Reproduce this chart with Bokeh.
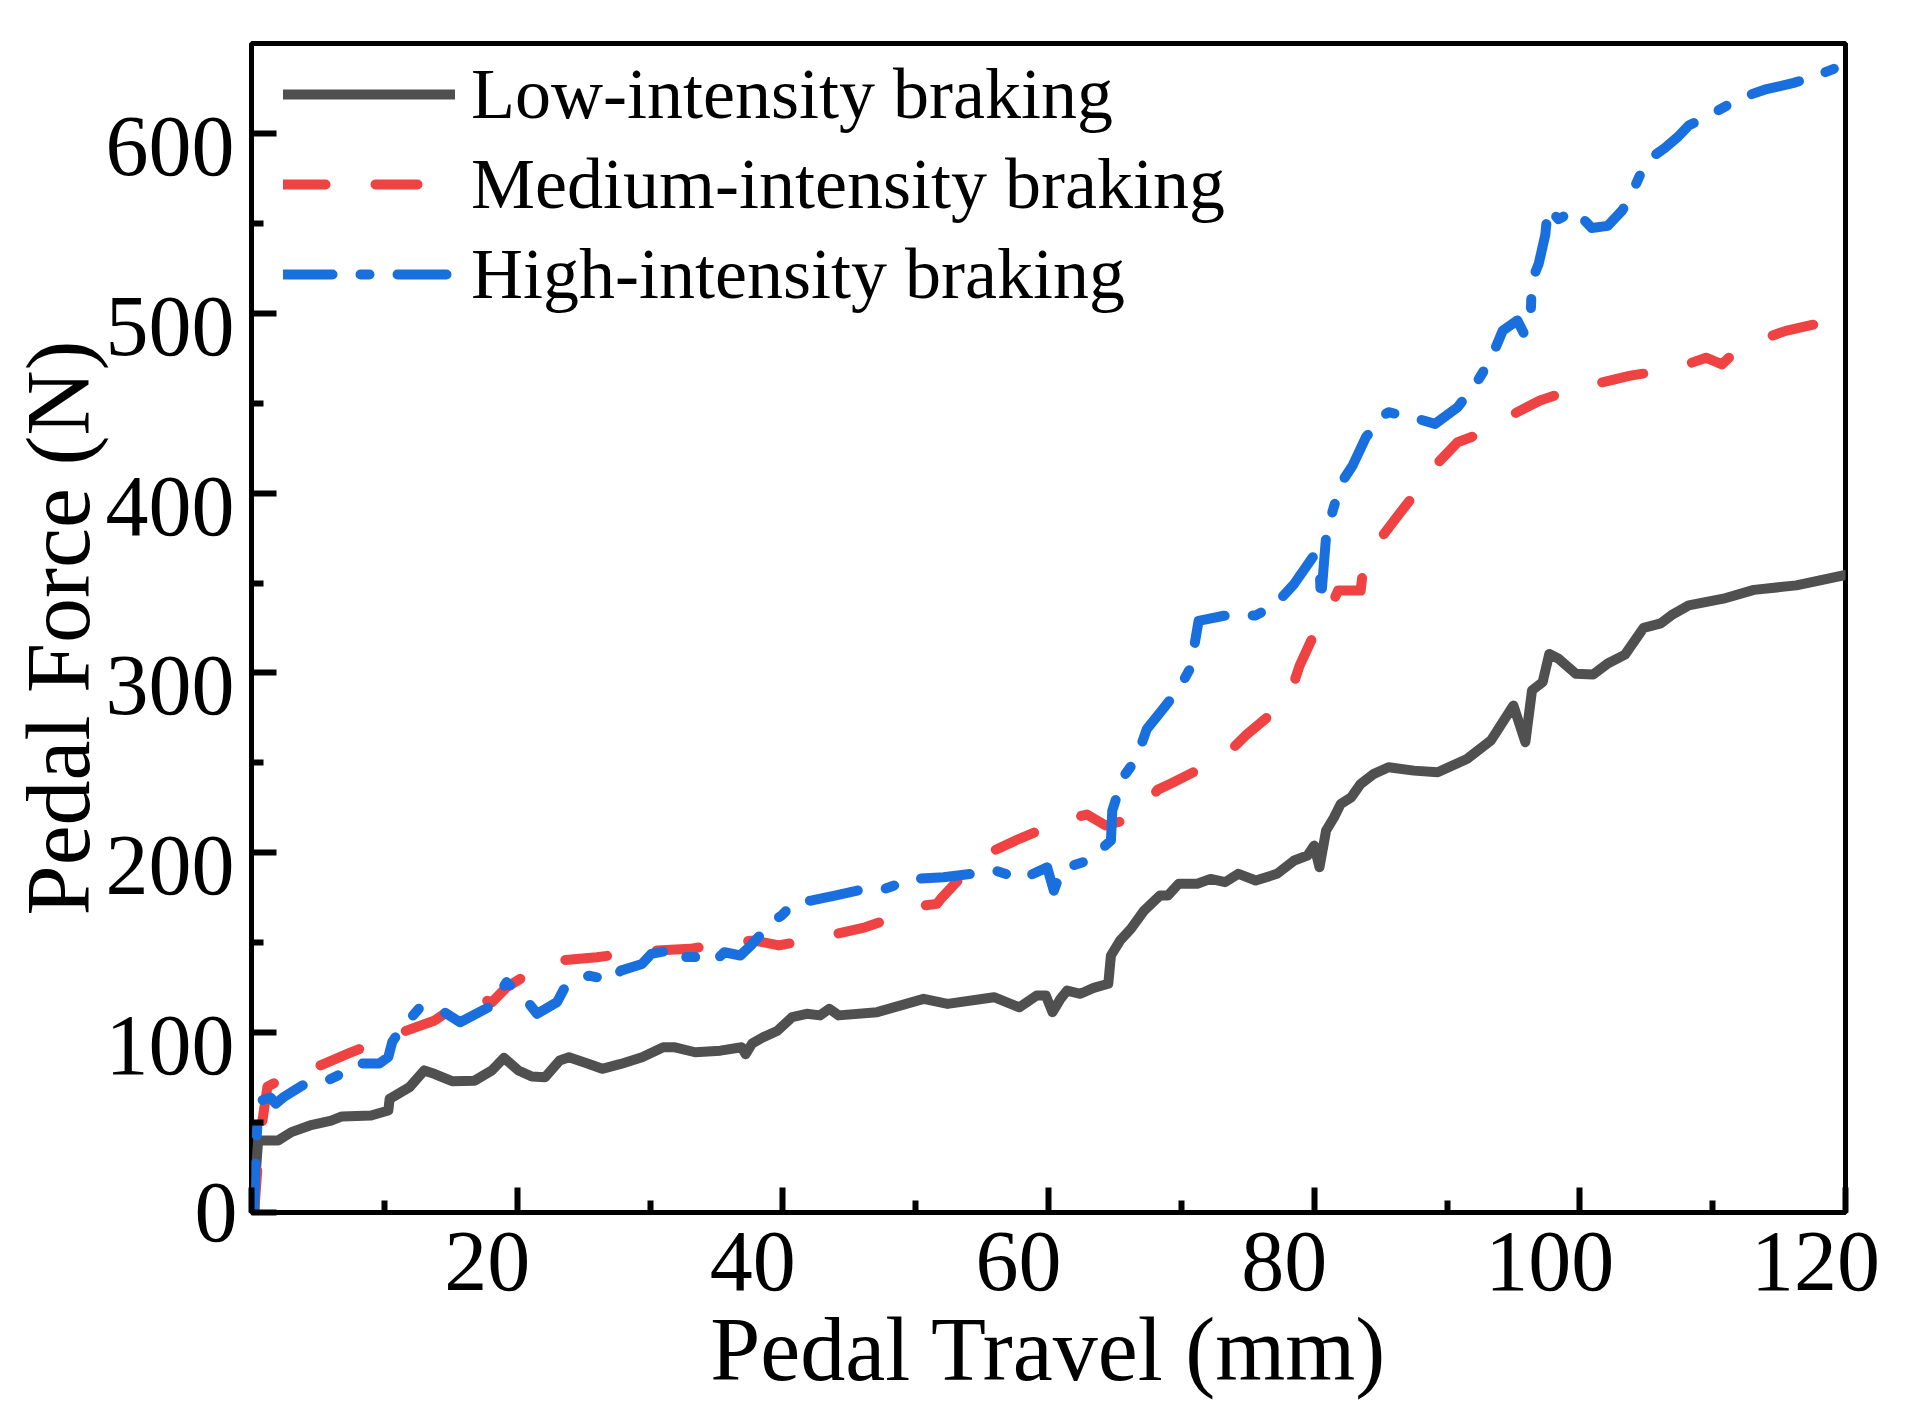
from bokeh.plotting import figure
from bokeh.models import Range1d, FixedTicker, LinearAxis
from bokeh.embed import file_html
from bokeh.resources import INLINE

# ---------------- data ----------------
low_x = [0.2, 0.3, 0.5, 2.0, 3.0, 4.4, 6.0, 6.8, 9.0, 10.3, 10.4, 11.9, 13.0, 13.8, 15.1, 16.8,
         18.1, 19.0, 20.1, 21.1, 22.1, 23.2, 23.9, 25.4, 26.4, 27.8, 29.4, 31.0, 31.8, 33.4,
         35.3, 36.9, 37.2, 37.7, 38.5, 39.6, 40.7, 41.8, 42.8, 43.5, 44.2, 47.1, 50.6, 52.4,
         55.9, 57.8, 59.1, 59.8, 60.3, 60.9, 61.4, 62.4, 63.4, 64.5, 64.7, 65.4, 66.2, 67.2,
         68.4, 69.0, 69.8, 71.2, 72.2, 73.3, 74.3, 75.6, 77.2, 78.5, 79.5, 80.0, 80.4, 80.9,
         81.5, 82.0, 82.8, 83.5, 84.5, 85.6, 87.5, 89.3, 91.5, 93.3, 95.0, 95.9, 96.4, 97.2,
         97.7, 98.4, 99.7, 101.0, 102.1, 103.4, 104.8, 106.1, 107.0, 108.2, 110.8, 113.1,
         116.3, 120.0]
low_y = [0, 20, 40, 40, 44.7, 48.4, 51.1, 53.4, 53.9, 56.7, 63.2, 69.7, 79, 77, 73, 73.3,
         79, 86, 79, 75.6, 75.2, 84.5, 86.3, 82.6, 79.9, 82.6, 86.3, 91.9, 91.9, 89.1,
         90, 91.9, 88, 94.1, 97.4, 101.1, 108.6, 110.5, 109.6, 113.3, 109.6, 111.4, 118.8, 116,
         119.7, 114.1, 120.6, 120.6, 111.4, 118.8, 123.4, 121.6, 124.9, 127.2, 142.9, 151.3, 157.7, 167.9,
         176.3, 176.3, 182.8, 182.8, 185.5, 183.7, 188.3, 184.6, 188.3, 195.7, 198.5, 204.0, 192, 212.4,
         219.8, 227.2, 230.9, 238.3, 243.9, 247.6, 245.7, 244.8, 252.2, 262.4, 281.9, 261.5, 290.3, 294.9,
         310.6, 307.9, 299.5, 299.1, 305.3, 310.2, 325.1, 327.6, 332.6, 337.6, 341.3, 346.2,
         348.7, 354.5]

med_x = [0.2, 0.6, 1.2, 2.5, 4.4, 7.35, 10.3, 13.8, 16.5, 18.1, 19.2, 22.4, 26.0, 29.3, 33.0,
         36.3, 37.9, 39.7, 43.0, 46.2, 49.2, 50.6, 51.6, 52.0, 54.6, 55.9, 57.8, 61.1, 62.9,
         64.3, 66.7, 68.2, 69.3, 72.4, 73.3, 74.8, 77.2, 78.2, 78.9, 80.3, 80.9, 81.8, 83.5,
         83.7, 84.2, 86.5, 87.5, 88.4, 90.8, 92.8, 93.8, 97.0, 98.5, 100.1, 103.8, 107.1,
         109.5, 110.7, 112.1, 115.5, 118.8, 120.0]
med_y = [0, 40, 70, 75, 79.3, 88.6, 97.5, 106.8, 120.7, 116.9, 125.2, 139.7, 141.9, 145.3, 146.6,
         150.3, 151.2, 148.5, 153.1, 158.6, 166.1, 170.7, 171.6, 175.3, 195.7, 201.3, 207.8, 218, 221.3,
         215.2, 220, 235, 238.8, 250.4, 253.9, 265, 279.9, 288.3, 304, 326.4, 331, 345.8, 345.8,
         358.8, 367.1, 389.4, 398.7, 409.8, 428.3, 433.8, 439.4, 451.5, 455.2, 458.9, 465.3, 469.1,
         475.3, 471.6, 481.5, 490.2, 495.7, 498]

high_x = [0.2, 0.3, 0.5, 0.76, 1.43, 1.83, 2.37, 3.85, 5.73, 6.54, 7.35, 8.29, 9.63, 10.3, 10.6,
          11.1, 12.7, 14.3, 15.7, 18.1, 19.2, 20.7, 21.5, 23.0, 23.6, 25.4, 27.2, 27.8, 29.4,
          30.1, 32.1, 32.5, 33.8, 34.8, 35.6, 36.8, 37.6, 38.5, 39.1, 39.9, 40.9, 42.2, 44.0,
          45.6, 47.7, 49.7, 52.1, 54.1, 56.0, 58.0, 59.9, 60.4, 61.0, 63.0, 64.7, 64.8, 65.6,
          66.6, 67.4, 68.4, 69.8, 70.7, 71.3, 73.2, 75.6, 77.0, 78.5, 79.9, 80.4, 80.5, 80.9,
          81.4, 82.0, 82.9, 83.9, 85.2, 85.6, 87.8, 89.1, 90.8, 92.4, 93.3, 94.2, 95.3, 95.8,
          96.3, 96.4, 96.9, 97.4, 97.6, 98.4, 99.6, 100.9, 102.1, 103.2, 103.8, 104.7, 105.0,
          106.4, 107.4, 108.2, 109.6, 111.1, 112.0, 113.9, 116.1, 117.7, 119.4, 120.0]
high_y = [0, 29, 56.7, 62.4, 63.9, 60.5, 63.9, 70.7, 73.5, 76.3, 81.3, 82.8, 82.8, 86.5, 94.9,
          100.4, 114.2, 112.3, 105.8, 115.1, 128.1, 117.9, 110.5, 117, 125.3, 131.7, 128.9, 134.5, 138.2,
          143.8, 146.6, 142, 142, 139.2, 144.7, 142.9, 148.5, 155.9, 161.4, 165.1, 172.5, 173.5, 176.3,
          179, 180, 185.4, 186.4, 188.2, 190.1, 185.4, 191.9, 178.9, 190.9, 195.7, 206.8, 223.4, 241.9,
          252.1, 268.8, 278, 291, 303, 329, 331.8, 332, 337.5, 349.6, 364.4, 364, 339.3, 376,
          390.3, 405.2, 415.4, 431.1, 443.1, 445, 441.3, 438.5, 447.7, 463.5, 474.6, 490.4, 496, 488.6,
          499.7, 518.2, 527.4, 543.6, 558.5, 552.3, 557.3, 547.4, 548.6, 557.3, 564.8, 579.6, 584.6,
          591.9, 598.2, 604.4, 609.4, 615.6, 619.4, 624.3, 628.1, 631.8, 636.7, 639.2]

series_names = ["Low-intensity braking", "Medium-intensity braking", "High-intensity braking"]
x_ticks = [0, 20, 40, 60, 80, 100, 120]
x_minor = [10, 30, 50, 70, 90, 110]
x_label_vals = [20, 40, 60, 80, 100, 120]
x_tick_labels = ["20", "40", "60", "80", "100", "120"]
y_ticks = [0, 100, 200, 300, 400, 500, 600]
y_minor = [50, 150, 250, 350, 450, 550]
y_label_vals = [100, 200, 300, 400, 500, 600]
y_tick_labels = ["100", "200", "300", "400", "500", "600"]
y_zero_label = "0"
x_title = "Pedal Travel (mm)"
y_title = "Pedal Force (N)"

FONT = "Liberation Serif"
X0, X1, Y0, Y1 = 0, 120, 0, 650
FRAME_W, FRAME_H = 1594, 1169
# tick labels in the reference sit a little left of / below their ticks
x_shift = 30 * (X1 - X0) / FRAME_W
y_shift = 13 * (Y1 - Y0) / FRAME_H

p = figure(width=1892, height=1404, output_backend="svg", toolbar_location=None,
           x_range=Range1d(X0, X1), y_range=Range1d(Y0, Y1),
           min_border_left=251, min_border_right=47, min_border_top=43, min_border_bottom=192)
p.title.visible = False
p.grid.visible = False
p.background_fill_color = "white"
p.border_fill_color = "white"
p.outline_line_color = "black"
p.outline_line_width = 5

tick_x = p.xaxis[0]
tick_y = p.yaxis[0]
for ax, ticks, minor in ((tick_x, x_ticks, x_minor), (tick_y, y_ticks, y_minor)):
    ax.ticker = FixedTicker(ticks=ticks, minor_ticks=minor)
    ax.axis_line_color = None
    ax.major_tick_in = 25
    ax.major_tick_out = 0
    ax.minor_tick_in = 12
    ax.minor_tick_out = 0
    ax.major_tick_line_width = 6
    ax.minor_tick_line_width = 6
    ax.major_tick_line_color = "black"
    ax.minor_tick_line_color = "black"
tick_x.major_label_text_color = None
tick_x.major_label_text_font_size = "1px"
tick_x.major_label_standoff = 0
# the y-axis "0" label is carried by the tick axis itself
tick_y.major_label_overrides = {t: (y_zero_label if t == 0 else "") for t in y_ticks}
tick_y.major_label_text_font = FONT
tick_y.major_label_text_font_size = "86px"
tick_y.major_label_text_color = "black"
tick_y.major_label_standoff = 14

p.extra_x_ranges = {"xlab": Range1d(X0 + x_shift, X1 + x_shift)}
p.extra_y_ranges = {"ylab": Range1d(Y0 + y_shift, Y1 + y_shift)}

lab_x = LinearAxis(x_range_name="xlab", ticker=FixedTicker(ticks=x_label_vals, minor_ticks=[]),
                   major_label_overrides=dict(zip(x_label_vals, x_tick_labels)))
lab_y = LinearAxis(y_range_name="ylab", ticker=FixedTicker(ticks=y_label_vals, minor_ticks=[]),
                   major_label_overrides=dict(zip(y_label_vals, y_tick_labels)))
for ax in (lab_x, lab_y):
    ax.axis_line_color = None
    ax.major_tick_line_color = None
    ax.minor_tick_line_color = None
    ax.major_tick_in = 0
    ax.major_tick_out = 0
    ax.minor_tick_in = 0
    ax.minor_tick_out = 0
    ax.major_label_text_font = FONT
    ax.major_label_text_font_size = "86px"
    ax.major_label_text_color = "black"
    ax.axis_label_text_font = FONT
    ax.axis_label_text_font_size = "90px"
    ax.axis_label_text_font_style = "normal"
    ax.axis_label_text_color = "black"
lab_x.axis_label = x_title
lab_x.major_label_standoff = 20
lab_x.axis_label_standoff = 7
lab_y.axis_label = y_title
lab_y.major_label_standoff = -43
lab_y.axis_label_standoff = -5
p.add_layout(lab_x, "below")
p.add_layout(lab_y, "left")

p.line(low_x, low_y, line_color="#505050", line_width=10, line_join="round",
       line_cap="round", legend_label=series_names[0])
p.line(med_x, med_y, line_color="#EF4242", line_width=10, line_join="round",
       line_cap="round", line_dash="42 50", legend_label=series_names[1])
p.line(high_x, high_y, line_color="#1A6FDE", line_width=10, line_join="round",
       line_cap="round", line_dash="49 28 9 28", legend_label=series_names[2])

lg = p.legend[0]
lg.location = (32, 896)
lg.margin = 0
lg.padding = 0
lg.spacing = 6
lg.border_line_color = None
lg.background_fill_alpha = 0
lg.glyph_width = 172
lg.glyph_height = 84
lg.label_height = 84
lg.label_standoff = 16
lg.label_text_font = FONT
lg.label_text_font_size = "72px"
lg.label_text_color = "black"

open("out.html", "w").write(file_html(p, INLINE))
